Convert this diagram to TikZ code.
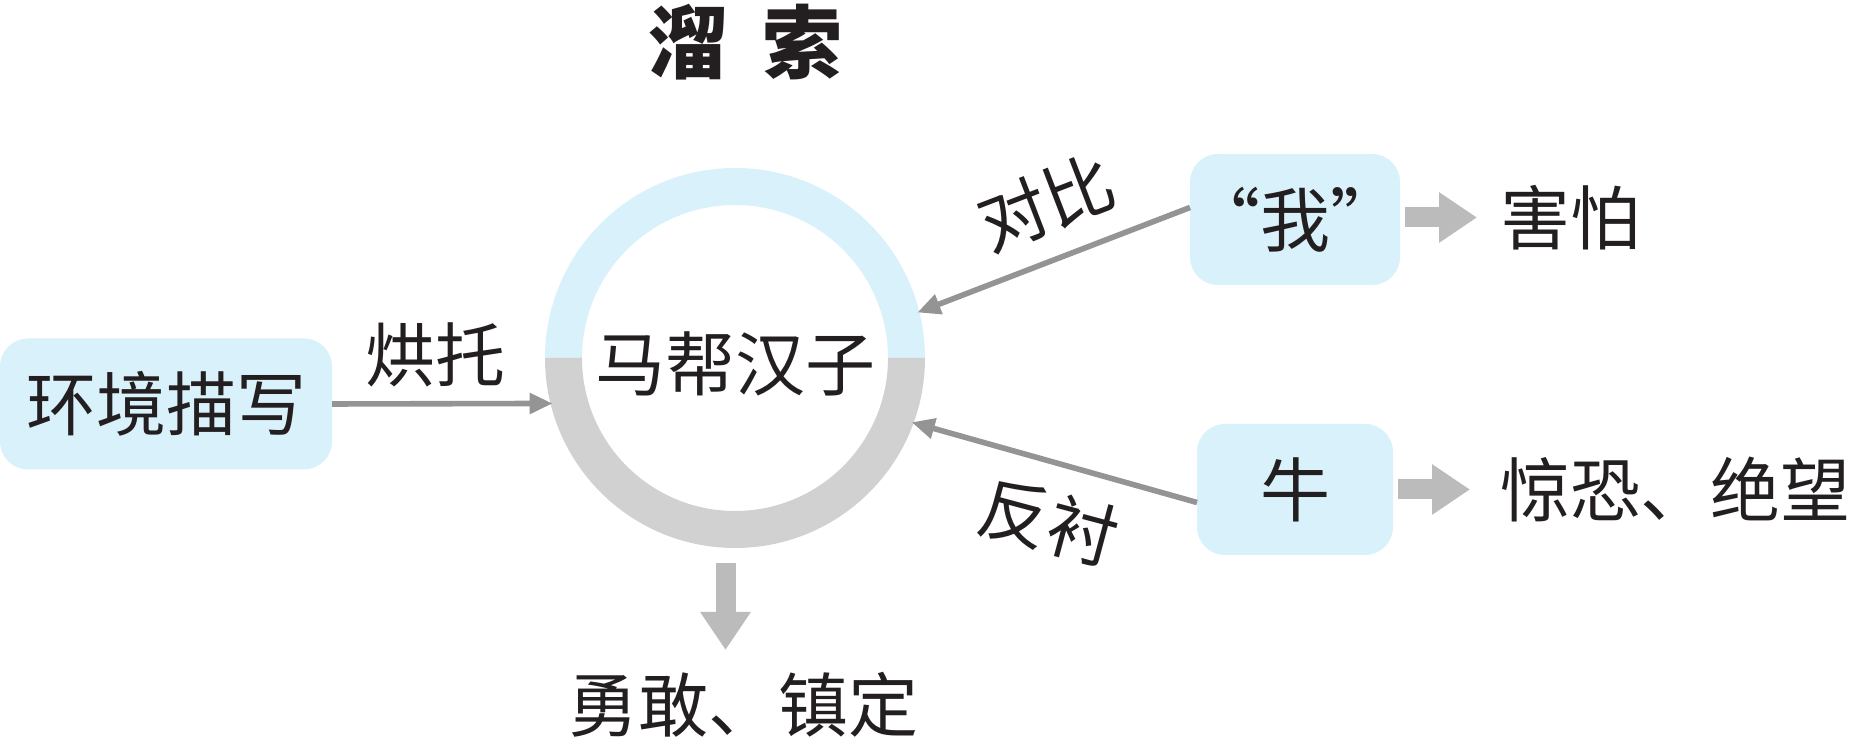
\documentclass[tikz,border=0pt]{standalone}
\usepackage{fontspec}
\newfontfamily\cjk{Noto Sans CJK SC}
\usetikzlibrary{arrows.meta,calc}
\definecolor{lblue}{RGB}{217,241,251}
\definecolor{rgray}{RGB}{209,209,209}
\definecolor{agray}{RGB}{148,148,148}
\definecolor{fgray}{RGB}{187,187,187}
\definecolor{txt}{RGB}{35,31,32}
\begin{document}
\begin{tikzpicture}[x=0.5pt,y=0.5pt,
  every node/.style={font=\cjk\fontsize{35pt}{40pt}\selectfont, text=txt, inner sep=0pt, outer sep=0pt},
  box/.style={fill=lblue, rounded corners=14pt, minimum height=65.5pt},
  thinarrow/.style={draw=agray, line width=2.8pt, -{Triangle[length=11.5pt,width=10pt]}},
  fatarrow/.style={draw=fgray, line width=10pt, -{Triangle[length=19pt,width=24pt]}},
  ]
\useasboundingbox (0,0) rectangle (1851,747);
\fill[white] (0,0) rectangle (1851,747);
% ring
\fill[lblue] (545,389) arc[start angle=180,end angle=0,radius=190] -- (888,389) arc[start angle=0,end angle=180,radius=153] -- cycle;
\fill[rgray] (545,389) arc[start angle=180,end angle=360,radius=190] -- (888,389) arc[start angle=360,end angle=180,radius=153] -- cycle;
\node[circle, minimum size=188pt] (c) at (735,389) {};
\node (ct) at (735,383) {马帮汉子};
% title
\node[font=\cjk\bfseries\fontsize{40pt}{44pt}\selectfont] (t) at (745,705) {溜\hspace{17pt}索};
% boxes
\node[box, minimum width=166pt] (env) at (166,343) {环境描写};
\node[box, minimum width=98pt] (w) at (1295,527.5) {“我”};
\node[box, minimum width=98pt] (n) at (1295,257.5) {牛};
% thin arrows
\draw[thinarrow] (env.east) -- (c.194);
\draw[thinarrow] ($(w.west)+(0,12)$) -- (c.14);
\draw[thinarrow] ($(n.west)+(0,-13)$) -- (c.-20);
% labels
\node (l0) at (435,392) {烘托};
\node[rotate=21] (l1) at (1046,544) {对比};
\node[rotate=-15] (l2) at (1049,225) {反衬};
% fat arrows
\draw[fatarrow] ($(w.east)+(5,2)$) -- ($(w.east)+(77,2)$);
\draw[fatarrow] ($(n.east)+(5,0)$) -- ($(n.east)+(77,0)$);
\coordinate (dtip) at (725.5,97);
\draw[fatarrow] ($(c.south)+(-9.5,-17)$) -- (dtip);
% results
\node[anchor=west] (hp) at (1500,529) {害怕};
\node[anchor=west] (jk) at (1500,258) {惊恐、绝望};
\node (yg) at (743,42) {勇敢、镇定};
\end{tikzpicture}
\end{document}
